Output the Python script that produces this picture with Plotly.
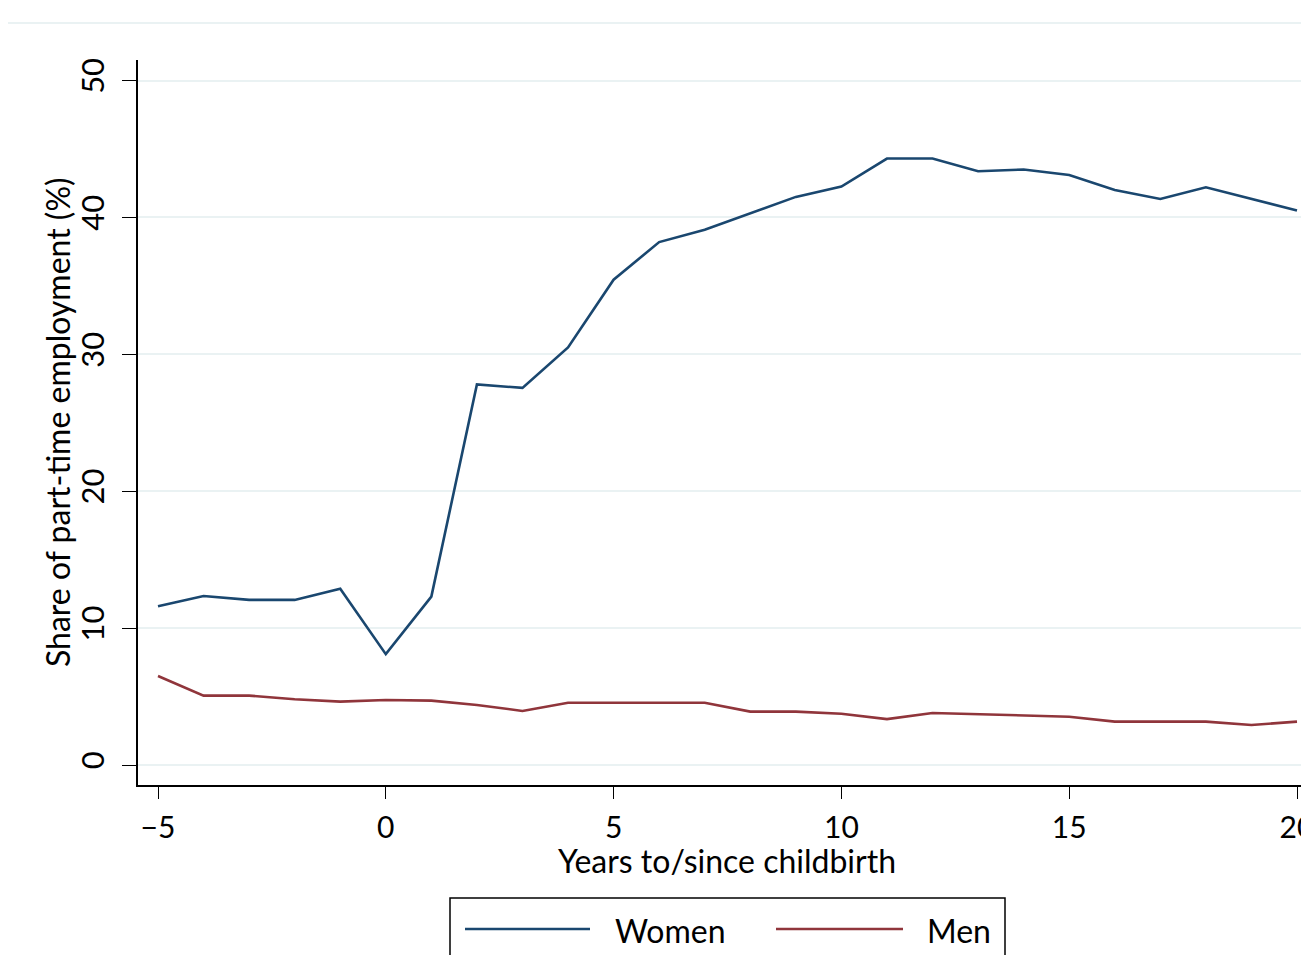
import plotly.graph_objects as go

years = list(range(-5, 21))
women = [11.6, 12.35, 12.06, 12.06, 12.87, 8.1, 12.3, 27.8, 27.55, 30.5, 35.45, 38.2, 39.1,
         40.3, 41.5, 42.25, 44.3, 44.3, 43.37, 43.5, 43.1, 42.0, 41.35, 42.2, 41.35, 40.5]
men = [6.5, 5.07, 5.07, 4.8, 4.63, 4.75, 4.7, 4.39, 3.95, 4.55, 4.55, 4.55, 4.55,
       3.9, 3.9, 3.75, 3.35, 3.8, 3.7, 3.65, 3.53, 3.17, 3.17, 3.17, 2.92, 3.17]
x_ticks = [-5, 0, 5, 10, 15, 20]
y_ticks = [0, 10, 20, 30, 40, 50]

NAVY = "#1a476f"
MAROON = "#90353b"
FONT = "Lato"
FS = 32

fig = go.Figure()
fig.add_trace(go.Scatter(x=years, y=women, mode="lines", name="Women",
                         line=dict(color=NAVY, width=2.6)))
fig.add_trace(go.Scatter(x=years, y=men, mode="lines", name="Men",
                         line=dict(color=MAROON, width=2.6)))

OFF = 8  # page body margin
W, H = 1309 - OFF, 955 - OFF
L, T = 138 - OFF, 60 - OFF
PB = 785 - OFF
B = H - PB
pw, ph = W - L, PB - T
XPPU = 45.56  # px per year in the reference
x0_val = -5 - (158 - 138) / XPPU
x1_val = x0_val + pw / XPPU


def px(xv):
    return (xv - OFF - L) / pw


def py(yv):
    return (PB - (yv - OFF)) / ph


fig.update_layout(
    width=W, height=H,
    margin=dict(l=L, r=0, t=T, b=B, autoexpand=False),
    paper_bgcolor="white", plot_bgcolor="white",
    showlegend=False,
    font=dict(family=FONT, size=FS, color="black"),
    xaxis=dict(range=[x0_val, x1_val], tickvals=x_ticks, showgrid=False, zeroline=False,
               automargin=False,
               showline=True, linecolor="black", linewidth=1.5,
               ticks="outside", ticklen=12, tickwidth=1.3, tickcolor="black",
               tickfont=dict(size=30), ticklabeloverflow="allow", ticklabelstandoff=3),
    yaxis=dict(range=[-1.46, 51.5], tickvals=y_ticks, showgrid=True, gridcolor="#eaf2f3",
               gridwidth=2, zeroline=False, automargin=False,
               showline=True, linecolor="black", linewidth=1.5,
               ticks="outside", ticklen=14, tickwidth=1.3, tickcolor="black",
               tickangle=-90, tickfont=dict(size=31), ticklabelstandoff=6),
)

# axis titles
fig.add_annotation(text="Years to/since childbirth", xref="paper", yref="paper",
                   x=px(727), y=py(860), xanchor="center", yanchor="middle", showarrow=False,
                   font=dict(family=FONT, size=FS, color="black"))
fig.add_annotation(text="Share of part-time employment (%)", xref="paper", yref="paper",
                   x=px(57), y=py(422), xanchor="center", yanchor="middle", showarrow=False,
                   textangle=-90, font=dict(family=FONT, size=FS, color="black"))

# outer graph-region top border
fig.add_shape(type="line", xref="paper", yref="paper",
              x0=px(8), x1=1.0, y0=py(23), y1=py(23),
              line=dict(color="#eaf2f3", width=2))

# manual legend (Stata style)
fig.add_shape(type="rect", xref="paper", yref="paper",
              x0=px(450), x1=px(1005), y0=py(975), y1=py(898),
              line=dict(color="black", width=1.5), fillcolor="white")
for name, color, xl0, xl1, xt in [("Women", NAVY, 465, 590, 613), ("Men", MAROON, 776, 903, 925)]:
    fig.add_shape(type="line", xref="paper", yref="paper",
                  x0=px(xl0), x1=px(xl1), y0=py(929), y1=py(929),
                  line=dict(color=color, width=2.6))
    fig.add_annotation(text=name, xref="paper", yref="paper", x=px(xt), y=py(930),
                       xanchor="left", yanchor="middle", showarrow=False,
                       font=dict(family=FONT, size=FS, color="black"))

fig.write_html("out.html")
